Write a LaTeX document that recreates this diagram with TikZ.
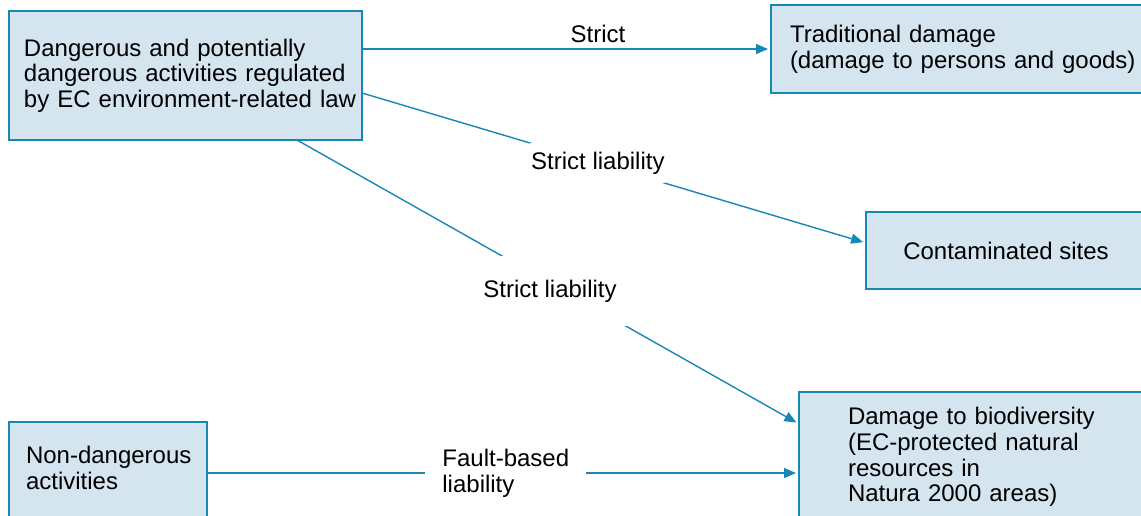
\documentclass[tikz,border=0pt]{standalone}
\usepackage{fontspec}
\setmainfont{Liberation Sans}
\usetikzlibrary{arrows.meta, positioning}
\definecolor{edge}{RGB}{23,135,181}
\definecolor{boxfill}{RGB}{212,229,240}
\tikzstyle{box}=[draw=edge,fill=boxfill,line width=0.75pt,anchor=north west,outer sep=0pt]
\tikzstyle{lnk}=[draw=edge,line width=0.7pt]
\tikzstyle{arr}=[lnk,-{Triangle[length=6pt,width=5pt]},shorten >=1.5pt]
\tikzstyle{lbl}=[fill=white,inner sep=0pt]
\newcommand{\row}[1]{\mbox{#1}}

\begin{document}
\begin{tikzpicture}[x=0.5pt,y=-0.5pt,font=\fontsize{12}{12.85}\selectfont]
    \useasboundingbox (0,0) rectangle (1141,515);
    \clip (0,0) rectangle (1141,515);
    % boxes
    \node[box,text width=161.5pt,inner xsep=7.5pt,minimum height=64.5pt,align=left] (dang) at (9,11)
        {\row{Dangerous and potentially}\\\row{dangerous activities regulated}\\\row{by EC environment-related law}};
    \node[box,text width=171pt,inner xsep=9.5pt,minimum height=44pt,align=left] (trad) at (771,5)
        {\row{Traditional damage}\\\row{(damage to persons and goods)}};
    \node[box,minimum width=140pt,minimum height=38.5pt,align=center] (cont) at (866,212)
        {Contaminated sites};
    \node[box,text width=130pt,inner xsep=24.5pt,minimum height=65pt,align=left] (bio) at (799,392)
        {\row{Damage to biodiversity}\\\row{(EC-protected natural}\\\row{resources in}\\\row{Natura 2000 areas)}};
    \node[box,text width=82pt,inner xsep=8.5pt,minimum height=50pt,text depth=17pt,align=left] (nondang) at (9,422)
        {\row{Non-dangerous}\\\row{activities}};
    % links
    \draw[arr] (dang.east |- trad.west) -- (trad.west)
        node[pos=0.577,above,inner sep=3pt] (lstrict) {Strict};
    \draw[arr] ([yshift=-8.75pt]dang.east) -- ([yshift=3.75pt]cont.west)
        node[lbl,pos=0.468,minimum width=67.5pt,minimum height=20pt] (lcont) {Strict liability};
    \draw[arr] ([xshift=55.75pt]dang.south) -- ([yshift=16.5pt]bio.west)
        node[lbl,pos=0.504,yshift=-4pt,minimum width=78pt,minimum height=35pt] (lbio) {Strict liability};
    \draw[arr] ([yshift=-0.5pt]nondang.east) -- ([yshift=-0.5pt]nondang.east -| bio.west)
        node[lbl,pos=0.499,text width=63pt,inner xsep=8.75pt,xshift=1.5pt,align=left] (lfault) {\row{Fault-based}\\\row{liability}};
\end{tikzpicture}
\end{document}
